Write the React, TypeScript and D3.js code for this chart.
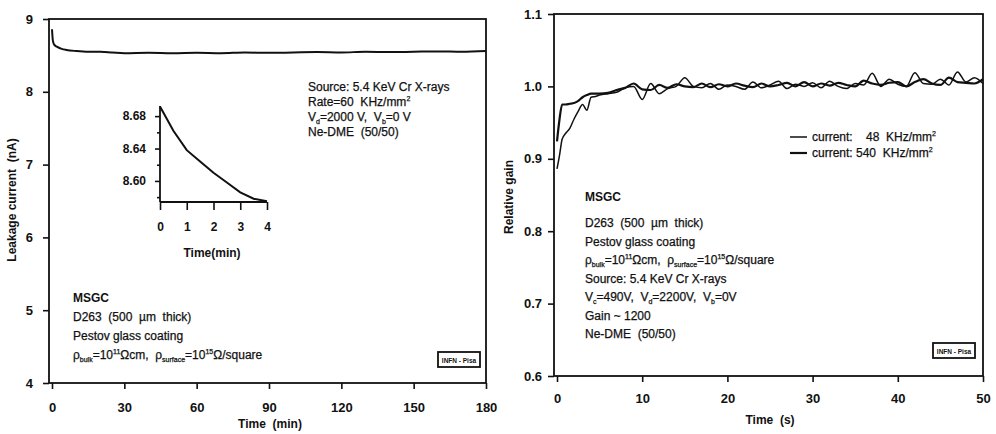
import React, { useEffect, useRef } from 'react';
import * as d3 from 'd3';

// left panel: leakage current vs time (min)
const leakTime = [0, 0.3, 0.6, 1, 2, 4, 6, 10, 15, 20, 25, 30, 40, 50, 60, 70, 80, 90, 100, 110, 120, 130, 140, 150, 160, 170, 180];
const leakCurrent = [8.86, 8.72, 8.67, 8.645, 8.62, 8.59, 8.575, 8.56, 8.55, 8.55, 8.54, 8.53, 8.535, 8.53, 8.535, 8.53, 8.54, 8.535, 8.54, 8.545, 8.54, 8.55, 8.545, 8.55, 8.555, 8.55, 8.56];
const leakXTicks = [0, 30, 60, 90, 120, 150, 180];
const leakYTicks = [4, 5, 6, 7, 8, 9];

// inset: first minutes
const insetTime = [0, 0.5, 1, 1.5, 2, 2.5, 3, 3.5, 4];
const insetCurrent = [8.692, 8.662, 8.638, 8.624, 8.61, 8.598, 8.586, 8.578, 8.575];
const insetXTicks = [0, 1, 2, 3, 4];
const insetYTicks = [8.6, 8.64, 8.68];
const insetYMinor = [8.58, 8.62, 8.66];

// right panel: relative gain vs time (s)
const gainTime = [0, 0.3, 0.6, 1, 1.5, 2, 2.5, 3, 3.5, 4, 4.5, 5, 6, 7, 8, 9, 10, 11, 12, 13, 14, 15, 16, 17, 18, 19, 20, 21, 22, 23, 24, 25, 26, 27, 28, 29, 30, 31, 32, 33, 34, 35, 36, 37, 38, 39, 40, 41, 42, 43, 44, 45, 46, 47, 48, 49, 50];
const gainLow = [0.886, 0.905, 0.927, 0.935, 0.942, 0.955, 0.966, 0.975, 0.967, 0.985, 0.986, 0.988, 0.99, 0.992, 0.998, 1.0, 0.982, 1.004, 0.99, 0.997, 1.0, 1.012, 1.0, 0.998, 1.004, 0.996, 1.002, 1.0, 0.996, 1.006, 0.998, 1.002, 1.007, 0.997, 1.003, 1.0, 1.005, 0.998, 1.007, 1.0, 0.997, 1.004, 1.002, 1.018, 1.0, 1.01, 1.003, 1.0, 1.019, 1.004, 1.003, 1.01, 1.002, 1.02, 1.006, 1.012, 1.004];
const gainHigh = [0.924, 0.955, 0.975, 0.975, 0.976, 0.977, 0.98, 0.985, 0.988, 0.99, 0.99, 0.99, 0.991, 0.995, 0.998, 1.004, 0.996, 0.995, 1.002, 0.998, 1.003, 1.0, 0.999, 1.004, 0.999, 1.003, 1.0, 1.004, 1.001, 0.999, 1.004, 1.0, 1.002, 1.005, 1.0, 1.006, 1.0, 1.004, 1.001, 1.005, 1.002, 1.0, 1.008, 1.004, 1.002, 1.005, 1.006, 1.0, 1.006, 1.01, 1.004, 1.002, 1.012, 1.006, 1.005, 1.004, 1.01];
const gainXTicks = [0, 10, 20, 30, 40, 50];
const gainYTicks = [0.6, 0.7, 0.8, 0.9, 1.0, 1.1];

const FONT = "'Liberation Sans', Arial, Helvetica, sans-serif";
const INK = '#111';

const App = () => {
  const ref = useRef<SVGSVGElement>(null);

  useEffect(() => {
    const svg = d3.select(ref.current);
    svg.selectAll('*').remove();
    svg.attr('font-family', FONT);

    const styleAxis = (g: any, fontSize: number) => {
      g.select('.domain').remove();
      g.selectAll('.tick line').attr('stroke', INK).attr('stroke-width', 1.6);
      g.selectAll('.tick text')
        .attr('fill', INK)
        .attr('font-size', fontSize)
        .attr('font-weight', 'bold')
        .attr('font-family', FONT);
    };

    const frame = (x0: number, x1: number, y0: number, y1: number) => {
      svg.append('rect')
        .attr('x', x0).attr('y', y0)
        .attr('width', x1 - x0).attr('height', y1 - y0)
        .attr('fill', 'none').attr('stroke', INK).attr('stroke-width', 1.8);
    };

    // each line is a list of parts; a part is a string or [string, 'sub' | 'sup']
    const textLines = (x: number, y0: number, step: number, lines: any[][]) => {
      lines.forEach((parts, i) => {
        const t = svg.append('text')
          .attr('x', x).attr('y', y0 + i * step)
          .attr('font-size', 12).attr('fill', INK)
          .attr('stroke', INK).attr('stroke-width', 0.25)
          .style('white-space', 'pre');
        let shift = 0;
        parts.forEach(p => {
          const [s, kind] = typeof p === 'string' ? [p, ''] : p;
          const sp = t.append('tspan').text(s);
          if (kind === 'sub') { sp.attr('font-size', 7).attr('dy', 3 - shift); shift = 3; }
          else if (kind === 'sup') { sp.attr('font-size', 7).attr('dy', -5 - shift); shift = -5; }
          else if (shift !== 0) { sp.attr('dy', -shift); shift = 0; }
        });
      });
    };

    const label = (x: number, y: number, s: string, rotate = false) => {
      svg.append('text')
        .attr('transform', rotate ? `translate(${x},${y}) rotate(-90)` : `translate(${x},${y})`)
        .attr('text-anchor', 'middle').attr('font-size', 12).attr('font-weight', 'bold')
        .attr('fill', INK).style('white-space', 'pre').text(s);
    };

    const infn = (x: number, y: number) => {
      svg.append('rect').attr('x', x).attr('y', y).attr('width', 42).attr('height', 15)
        .attr('fill', 'white').attr('stroke', INK).attr('stroke-width', 1.8);
      svg.append('text').attr('x', x + 21).attr('y', y + 10.5)
        .attr('text-anchor', 'middle').attr('font-size', 6.5).attr('font-weight', 'bold')
        .attr('fill', INK).text('INFN - Pisa');
    };

    // ---------- left panel ----------
    const L = { left: 49, right: 486, top: 19, bottom: 383 };
    const xL = d3.scaleLinear().domain([0, 180]).range([L.left + 3, L.right]);
    const yL = d3.scaleLinear().domain([4, 9]).range([L.bottom, L.top]);

    frame(L.left, L.right, L.top, L.bottom);
    svg.append('g').attr('transform', `translate(0,${L.bottom})`)
      .call(d3.axisBottom(xL).tickValues(leakXTicks).tickSize(6).tickPadding(14).tickFormat(d3.format('d')))
      .call(g => styleAxis(g, 13));
    svg.append('g').attr('transform', `translate(${L.left},0)`)
      .call(d3.axisLeft(yL).tickValues(leakYTicks).tickSize(6).tickPadding(10).tickFormat(d3.format('d')))
      .call(g => styleAxis(g, 13));

    const leakLine = d3.line<number>()
      .x((_, i) => xL(leakTime[i]))
      .y(d => yL(d))
      .curve(d3.curveMonotoneX);
    svg.append('path').datum(leakCurrent)
      .attr('fill', 'none').attr('stroke', INK).attr('stroke-width', 2).attr('d', leakLine);

    label(16, 200, 'Leakage current  (nA)', true);
    label(270, 428, 'Time  (min)');

    // inset
    const I = { left: 160, right: 267, top: 106, bottom: 202 };
    const xI = d3.scaleLinear().domain([0, 4]).range([I.left, I.right]);
    const yI = d3.scaleLinear().domain([8.574, 8.6925]).range([I.bottom, I.top]);
    svg.append('line').attr('x1', I.left).attr('x2', I.left).attr('y1', I.top).attr('y2', I.bottom)
      .attr('stroke', INK).attr('stroke-width', 1.8);
    svg.append('line').attr('x1', I.left).attr('x2', I.right).attr('y1', I.bottom).attr('y2', I.bottom)
      .attr('stroke', INK).attr('stroke-width', 1.8);
    svg.append('g').attr('transform', `translate(0,${I.bottom})`)
      .call(d3.axisBottom(xI).tickValues(insetXTicks).tickSize(8).tickPadding(12).tickFormat(d3.format('d')))
      .call(g => styleAxis(g, 12));
    svg.append('g').attr('transform', `translate(${I.left},0)`)
      .call(d3.axisLeft(yI).tickValues(insetYTicks).tickSize(5).tickPadding(9).tickFormat(d3.format('.2f')))
      .call(g => styleAxis(g, 12));
    svg.append('g').attr('transform', `translate(${I.left},0)`)
      .call(d3.axisLeft(yI).tickValues(insetYMinor).tickSize(3).tickFormat(() => ''))
      .call(g => styleAxis(g, 12));
    const insetLine = d3.line<number>()
      .x((_, i) => xI(insetTime[i]))
      .y(d => yI(d));
    svg.append('path').datum(insetCurrent)
      .attr('fill', 'none').attr('stroke', INK).attr('stroke-width', 2).attr('d', insetLine);
    label(212, 257, 'Time(min)');

    textLines(308, 91, 15, [
      ['Source: 5.4 KeV Cr X-rays'],
      ['Rate=60  KHz/mm', ['2', 'sup']],
      ['V', ['d', 'sub'], '=2000 V,  V', ['b', 'sub'], '=0 V'],
      ['Ne-DME  (50/50)'],
    ]);
    svg.append('text').attr('x', 73).attr('y', 302).attr('font-size', 12).attr('font-weight', 'bold')
      .attr('fill', INK).text('MSGC');
    textLines(73, 321, 19, [
      ['D263  (500  µm  thick)'],
      ['Pestov glass coating'],
      ['ρ', ['bulk', 'sub'], '=10', ['11', 'sup'], 'Ωcm,  ρ', ['surface', 'sub'], '=10', ['15', 'sup'], 'Ω/square'],
    ]);
    infn(438, 352);

    // ---------- right panel ----------
    const R = { left: 554, right: 983, top: 14, bottom: 376 };
    const xR = d3.scaleLinear().domain([0, 50]).range([R.left + 3, R.right]);
    const yR = d3.scaleLinear().domain([0.6, 1.1]).range([R.bottom, R.top]);

    frame(R.left, R.right, R.top, R.bottom);
    svg.append('g').attr('transform', `translate(0,${R.bottom})`)
      .call(d3.axisBottom(xR).tickValues(gainXTicks).tickSize(6).tickPadding(12).tickFormat(d3.format('d')))
      .call(g => styleAxis(g, 13));
    svg.append('g').attr('transform', `translate(${R.left},0)`)
      .call(d3.axisLeft(yR).tickValues(gainYTicks).tickSize(6).tickPadding(6).tickFormat(d3.format('.1f')))
      .call(g => styleAxis(g, 13));

    const gainLine = d3.line<number>()
      .x((_, i) => xR(gainTime[i]))
      .y(d => yR(d))
      .curve(d3.curveMonotoneX);
    svg.append('path').datum(gainLow)
      .attr('fill', 'none').attr('stroke', INK).attr('stroke-width', 1.5).attr('d', gainLine);
    svg.append('path').datum(gainHigh)
      .attr('fill', 'none').attr('stroke', INK).attr('stroke-width', 2.2).attr('d', gainLine);

    label(513, 197, 'Relative gain', true);
    label(770, 424, 'Time  (s)');

    // legend
    svg.append('line').attr('x1', 790).attr('x2', 807).attr('y1', 137).attr('y2', 137)
      .attr('stroke', INK).attr('stroke-width', 1.5);
    svg.append('line').attr('x1', 790).attr('x2', 807).attr('y1', 153).attr('y2', 153)
      .attr('stroke', INK).attr('stroke-width', 2.2);
    textLines(812, 141, 16, [
      ['current:    48  KHz/mm', ['2', 'sup']],
      ['current: 540  KHz/mm', ['2', 'sup']],
    ]);

    svg.append('text').attr('x', 585).attr('y', 201).attr('font-size', 12).attr('font-weight', 'bold')
      .attr('fill', INK).text('MSGC');
    textLines(585, 227, 18.5, [
      ['D263  (500  µm  thick)'],
      ['Pestov glass coating'],
      ['ρ', ['bulk', 'sub'], '=10', ['11', 'sup'], 'Ωcm,  ρ', ['surface', 'sub'], '=10', ['15', 'sup'], 'Ω/square'],
      ['Source: 5.4 KeV Cr X-rays'],
      ['V', ['c', 'sub'], '=490V,  V', ['d', 'sub'], '=2200V,  V', ['b', 'sub'], '=0V'],
      ['Gain ~ 1200'],
      ['Ne-DME  (50/50)'],
    ]);
    infn(933, 343);
  }, []);

  return (
    <svg ref={ref} width={996} height={434}
      style={{ position: 'absolute', left: 0, top: 0, background: 'white' }} />
  );
};

export default App;
